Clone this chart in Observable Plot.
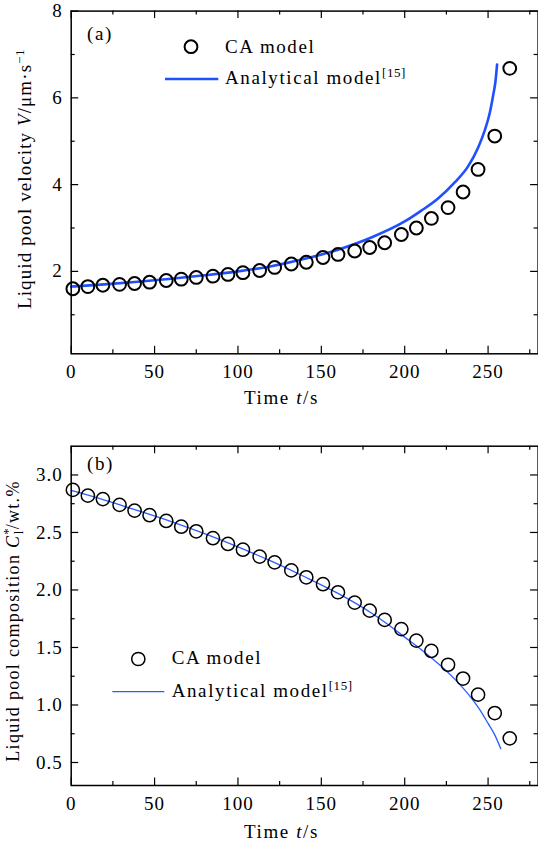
<!DOCTYPE html>
<html>
<head>
<meta charset="utf-8">
<script src="https://cdn.jsdelivr.net/npm/d3@7"></script>
<script src="https://cdn.jsdelivr.net/npm/@observablehq/plot@0.6"></script>
<style>
  html, body { margin: 0; padding: 0; background: #fff; }
  #chart svg { display: block; }
</style>
</head>
<body>
<div id="chart"></div>
<script>
// ---------- data ----------
const caTime = [1, 10, 19, 29, 38, 47, 57, 66, 75, 85, 94, 103, 113, 122, 132, 141, 151, 160, 170, 179, 188, 198, 207, 216, 226, 235, 244, 254, 263];
const caVelocity = [1.60, 1.65, 1.68, 1.70, 1.72, 1.75, 1.79, 1.82, 1.86, 1.89, 1.93, 1.97, 2.02, 2.09, 2.17, 2.21, 2.32, 2.39, 2.47, 2.55, 2.66, 2.85, 3.00, 3.22, 3.47, 3.83, 4.35, 5.12, 6.68];
const caComposition = [2.87, 2.82, 2.79, 2.74, 2.69, 2.65, 2.60, 2.55, 2.51, 2.45, 2.40, 2.35, 2.29, 2.24, 2.17, 2.11, 2.05, 1.98, 1.89, 1.82, 1.74, 1.66, 1.56, 1.47, 1.35, 1.23, 1.09, 0.93, 0.71];

const anaTimeA = [0, 20, 40, 60, 80, 100, 120, 140, 160, 180, 200, 210, 220, 230, 238, 244, 248, 251, 253, 254.5, 255.4];
const anaVelocity = [1.65, 1.70, 1.76, 1.83, 1.91, 2.00, 2.12, 2.29, 2.50, 2.78, 3.15, 3.40, 3.68, 4.05, 4.42, 4.85, 5.25, 5.65, 6.05, 6.40, 6.77];

const anaTimeB = [0, 20, 40, 60, 80, 100, 120, 140, 160, 180, 190, 200, 210, 220, 230, 240, 245, 250, 254, 257.6];
const anaComposition = [2.865, 2.782, 2.69, 2.595, 2.49, 2.375, 2.25, 2.115, 1.97, 1.80, 1.70, 1.59, 1.48, 1.36, 1.225, 1.06, 0.96, 0.84, 0.74, 0.62];

const xMajor = [0, 50, 100, 150, 200, 250];
const xMinor = [25, 75, 125, 175, 225, 275];
const yMajorA = [2, 4, 6, 8];
const yMinorA = [1, 3, 5, 7];
const yMajorB = [0.5, 1.0, 1.5, 2.0, 2.5, 3.0];
const yMinorB = [0.75, 1.25, 1.75, 2.25, 2.75];

const seriesNames = ["CA model", "Analytical model"];
const refMark = "[15]";

// ---------- helpers ----------
const FONT = "'Liberation Serif', 'DejaVu Serif', serif";
const W = 538;

function zip(ts, vs) { return ts.map((t, i) => ({t, v: vs[i]})); }

function panel(o) {
  const innerW = W - o.ml - o.mr, innerH = o.height - o.mt - o.mb;
  const tk = {stroke: "#000", strokeWidth: 1.2};
  const svg = Plot.plot({
    width: W, height: o.height,
    marginLeft: o.ml, marginRight: o.mr, marginTop: o.mt, marginBottom: o.mb,
    style: {fontFamily: FONT, fontSize: "19px", color: "#000", background: "#fff", overflow: "visible"},
    x: {domain: [0, 280]},
    y: {domain: o.yDomain},
    marks: [
      Plot.line(o.line, {x: "t", y: "v", stroke: o.lineColor, strokeWidth: o.lineWidth, curve: "monotone-x"}),
      Plot.dot(o.dots, {x: "t", y: "v", r: o.r, stroke: "#000", strokeWidth: o.dotStroke, fill: "none"}),
      Plot.tickX(xMajor, {x: d => d, insetTop: innerH - 7.5, ...tk}),
      Plot.tickX(xMajor, {x: d => d, insetBottom: innerH - 7.5, ...tk}),
      Plot.tickX(xMinor, {x: d => d, insetTop: innerH - 4, ...tk}),
      Plot.tickX(xMinor, {x: d => d, insetBottom: innerH - 4, ...tk}),
      Plot.tickY(o.yMajor, {y: d => d, insetRight: innerW - 7.5, ...tk}),
      Plot.tickY(o.yMajor, {y: d => d, insetLeft: innerW - 7.5, ...tk}),
      Plot.tickY(o.yMinor, {y: d => d, insetRight: innerW - 4, ...tk}),
      Plot.tickY(o.yMinor, {y: d => d, insetLeft: innerW - 4, ...tk}),
      Plot.axisX(xMajor, {anchor: "bottom", tickSize: 0, tickPadding: 11, label: null, tickFormat: d => String(d)}),
      Plot.axisY(o.yMajor, {anchor: "left", tickSize: 0, tickPadding: 8.5, label: null, tickFormat: o.fmt}),
      Plot.frame({stroke: "#000", strokeWidth: 1.5})
    ]
  });
  d3.select(svg).style("letter-spacing", "1px");
  return svg;
}

function richText(svg, {x, y, rotate = 0, anchor = "start", size = 19, spacing = "1.6px"}, parts) {
  const t = d3.select(svg).append("text")
    .attr("transform", `translate(${x},${y})` + (rotate ? ` rotate(${rotate})` : ""))
    .attr("text-anchor", anchor)
    .attr("font-family", FONT)
    .attr("font-size", size)
    .attr("fill", "#000")
    .style("letter-spacing", spacing);
  for (const p of parts) {
    const s = t.append("tspan").text(p.text);
    if (p.italic) s.attr("font-style", "italic");
    if (p.size) s.attr("font-size", p.size);
    if (p.dx != null) s.attr("dx", p.dx);
    if (p.dy != null) s.attr("dy", p.dy);
    if (p.ls) s.style("letter-spacing", p.ls);
  }
  return t;
}

function legend(svg, o) {
  const g = d3.select(svg).append("g");
  g.append("circle").attr("cx", o.cx).attr("cy", o.cy).attr("r", o.r)
    .attr("fill", "none").attr("stroke", "#000").attr("stroke-width", o.dotStroke);
  g.append("line").attr("x1", o.lx1).attr("x2", o.lx2).attr("y1", o.ly).attr("y2", o.ly)
    .attr("stroke", o.lineColor).attr("stroke-width", o.lineWidth);
  richText(svg, {x: o.tx, y: o.ty1}, [{text: seriesNames[0]}]);
  richText(svg, {x: o.tx, y: o.ty2}, [{text: seriesNames[1]}, {text: refMark, size: 13, dy: -7, ls: "0.6px"}]);
}

// ---------- panel (a) ----------
const svgA = panel({
  height: 420, ml: 70.7, mr: 0.4, mt: 10.6, mb: 66.7,
  yDomain: [0.1, 8], yMajor: yMajorA, yMinor: yMinorA, fmt: d => String(d),
  line: zip(anaTimeA, anaVelocity), dots: zip(caTime, caVelocity),
  lineColor: "#1f4fff", lineWidth: 2.6, r: 6.4, dotStroke: 2
});
richText(svgA, {x: 87, y: 40}, [{text: "(a)"}]);
richText(svgA, {x: 281.5, y: 404, anchor: "middle"}, [{text: "Time "}, {text: "t", italic: true}, {text: "/s"}]);
richText(svgA, {x: 30.5, y: 179, rotate: -90, anchor: "middle", spacing: "1.1px"},
  [{text: "Liquid pool velocity "}, {text: "V", italic: true}, {text: "/μm·s"}, {text: "−1", size: 13, dy: -7, ls: "0.5px"}]);
legend(svgA, {cx: 191, cy: 46.7, r: 6.4, dotStroke: 2, lx1: 165, lx2: 218.3, ly: 79,
  lineColor: "#1f4fff", lineWidth: 2.6, tx: 225, ty1: 53.3, ty2: 84});

// ---------- panel (b) ----------
const svgB = panel({
  height: 425, ml: 70.7, mr: 0.4, mt: 25.7, mb: 60,
  yDomain: [0.3, 3.25], yMajor: yMajorB, yMinor: yMinorB, fmt: d3.format(".1f"),
  line: zip(anaTimeB, anaComposition), dots: zip(caTime, caComposition),
  lineColor: "#2a5cff", lineWidth: 1.3, r: 6.6, dotStroke: 1.5
});
richText(svgB, {x: 87, y: 50}, [{text: "(b)"}]);
richText(svgB, {x: 281.5, y: 418, anchor: "middle"}, [{text: "Time "}, {text: "t", italic: true}, {text: "/s"}]);
richText(svgB, {x: 18.5, y: 201, rotate: -90, anchor: "middle", size: 18, spacing: "1.3px"},
  [{text: "Liquid pool composition "}, {text: "C", italic: true},
   {text: "*", size: 13, dy: -7, ls: "0px"}, {text: "l", size: 13, dx: -6, dy: 11}, {text: "/wt.%", dy: -4}]);
legend(svgB, {cx: 138.3, cy: 239, r: 6.6, dotStroke: 1.5, lx1: 112.3, lx2: 164.3, ly: 271.7,
  lineColor: "#2a5cff", lineWidth: 1.3, tx: 171.7, ty1: 244, ty2: 276.7});

const chart = document.getElementById("chart");
chart.appendChild(svgA);
chart.appendChild(svgB);
</script>
</body>
</html>
